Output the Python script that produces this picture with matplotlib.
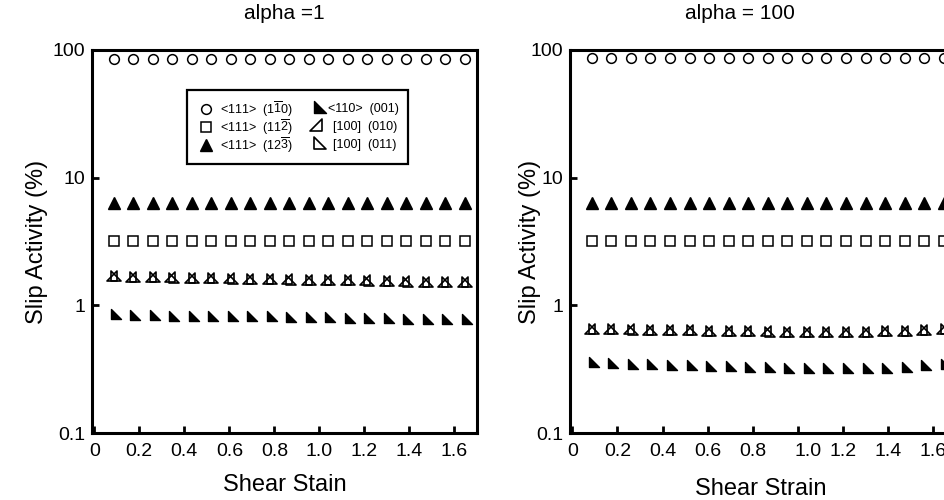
import matplotlib
matplotlib.use("Agg")
import matplotlib.pyplot as plt
from matplotlib.path import Path
from matplotlib.patches import Rectangle
from matplotlib.transforms import ScaledTranslation

plt.rcParams['font.family'] = ['Liberation Sans', 'DejaVu Sans']
plt.rcParams['mathtext.fontset'] = 'custom'
plt.rcParams['mathtext.rm'] = 'Liberation Sans'
plt.rcParams['mathtext.it'] = 'Liberation Sans'

# ---------------- data ----------------
strain = [0.087, 0.173, 0.260, 0.346, 0.433, 0.520, 0.606, 0.693, 0.780, 0.866,
          0.953, 1.040, 1.126, 1.212, 1.300, 1.386, 1.472, 1.560, 1.645]

labels = [r'<111>  (1$\overline{1}$0)', r'<111>  (11$\overline{2}$)', r'<111>  (12$\overline{3}$)',
          r'<110>  (001)', r'[100]  (010)', r'[100]  (011)']

# alpha = 1
a1_s110 = [85, 85, 85, 85, 85, 85, 85, 85, 85, 85, 85, 85, 85, 85, 85, 85, 85, 85, 85]
a1_s112 = [3.2, 3.2, 3.2, 3.2, 3.2, 3.2, 3.2, 3.2, 3.2, 3.2, 3.2, 3.2, 3.2, 3.2, 3.2, 3.2, 3.2, 3.2, 3.2]
a1_s123 = [6.3, 6.3, 6.3, 6.3, 6.3, 6.3, 6.3, 6.3, 6.3, 6.3, 6.3, 6.3, 6.3, 6.3, 6.3, 6.3, 6.3, 6.3, 6.3]
a1_c001 = [0.82, 0.81, 0.81, 0.80, 0.80, 0.80, 0.79, 0.79, 0.79, 0.78, 0.78, 0.78, 0.77, 0.77, 0.77, 0.76, 0.76, 0.75, 0.75]
a1_c010 = [1.64, 1.62, 1.61, 1.60, 1.59, 1.58, 1.57, 1.56, 1.55, 1.54, 1.53, 1.52, 1.52, 1.51, 1.50, 1.49, 1.48, 1.48, 1.47]
a1_c011 = [1.63, 1.61, 1.60, 1.59, 1.58, 1.57, 1.56, 1.55, 1.54, 1.53, 1.52, 1.51, 1.51, 1.50, 1.49, 1.48, 1.47, 1.47, 1.46]

# alpha = 100
a2_s110 = [86, 86, 86, 86, 86, 86, 86, 86, 86, 86, 86, 86, 86, 86, 86, 86, 86, 86, 86]
a2_s112 = [3.2, 3.2, 3.2, 3.2, 3.2, 3.2, 3.2, 3.2, 3.2, 3.2, 3.2, 3.2, 3.2, 3.2, 3.2, 3.2, 3.2, 3.2, 3.2]
a2_s123 = [6.3, 6.3, 6.3, 6.3, 6.3, 6.3, 6.3, 6.3, 6.3, 6.3, 6.3, 6.3, 6.3, 6.3, 6.3, 6.3, 6.3, 6.3, 6.3]
a2_c001 = [0.345, 0.340, 0.336, 0.333, 0.330, 0.327, 0.324, 0.321, 0.318, 0.316, 0.314, 0.312, 0.310, 0.309, 0.310, 0.313, 0.318, 0.326, 0.335]
a2_c010 = [0.635, 0.630, 0.625, 0.622, 0.618, 0.615, 0.612, 0.609, 0.606, 0.603, 0.601, 0.599, 0.598, 0.598, 0.600, 0.604, 0.610, 0.620, 0.632]
a2_c011 = [0.632, 0.627, 0.622, 0.619, 0.616, 0.613, 0.610, 0.607, 0.604, 0.601, 0.599, 0.597, 0.596, 0.596, 0.598, 0.602, 0.608, 0.618, 0.630]

xticks = [0, 0.2, 0.4, 0.6, 0.8, 1.0, 1.2, 1.4, 1.6]
xticklabels = ['0', '0.2', '0.4', '0.6', '0.8', '1.0', '1.2', '1.4', '1.6']
yticks = [0.1, 1, 10, 100]
yticklabels = ['0.1', '1', '10', '100']

# ---------------- markers (right triangles centred on their centroid) ----------------
C = [Path.MOVETO, Path.LINETO, Path.LINETO, Path.CLOSEPOLY]
tri_bl = Path([(-1, 2), (-1, -1), (2, -1), (-1, 2)], C)   # right angle bottom-left
tri_br = Path([(1, 2), (1, -1), (-2, -1), (1, 2)], C)     # right angle bottom-right

styles = [
    dict(marker='o', mfc='white', mec='black', ms=7, mew=1.1),
    dict(marker='s', mfc='white', mec='black', ms=7, mew=1.1),
    dict(marker='^', mfc='black', mec='black', ms=8, mew=1.0),
    dict(marker=tri_bl, mfc='black', mec='black', ms=10, mew=1.0),
    dict(marker=tri_br, mfc='none', mec='black', ms=10, mew=1.2),
    dict(marker=tri_bl, mfc='none', mec='black', ms=10, mew=1.2),
]

fig = plt.figure(figsize=(9.45, 5.0), dpi=100)
ax1 = fig.add_axes([92/945, 67/500, 385/945, 383/500])
ax2 = fig.add_axes([570/945, 67/500, 386/945, 383/500])

panels = [
    (ax1, 'alpha =1', [a1_s110, a1_s112, a1_s123, a1_c001, a1_c010, a1_c011], 'Shear Stain'),
    (ax2, 'alpha = 100', [a2_s110, a2_s112, a2_s123, a2_c001, a2_c010, a2_c011], 'Shear Strain'),
]

for ax, title, series, xlab in panels:
    for vals, st, lab in zip(series, styles, labels):
        ax.plot(strain, vals, linestyle='none', label=lab, **st)
    ax.set_yscale('log')
    ax.set_ylim(0.1, 100)
    ax.set_xlim(-0.01, 1.70)
    ax.set_yticks(yticks)
    ax.set_yticklabels(yticklabels)
    ax.yaxis.set_minor_locator(matplotlib.ticker.NullLocator())
    ax.set_xticks(xticks)
    ax.set_xticklabels(xticklabels)
    ax.tick_params(direction='in', length=5, width=2, labelsize=14)
    ax.tick_params(axis='x', pad=7)
    ax.tick_params(axis='y', pad=5)
    for sp in ax.spines.values():
        sp.set_linewidth(2.2)
    ax.set_title(title, fontsize=15, pad=22)
    ax.set_ylabel('Slip Activity (%)', fontsize=17)
    ax.set_xlabel(xlab, fontsize=17)

ax1.xaxis.labelpad = 10
ax2.xaxis.labelpad = 13
ax1.yaxis.set_label_coords(-0.114, 0.5)
ax2.yaxis.set_label_coords(-0.074, 0.5)
ax1.title.set_x(0.50)
ax2.title.set_x(0.44)
ax2.xaxis.label.set_x(0.495)
lbl = ax2.get_xticklabels()[5]
lbl.set_transform(lbl.get_transform() + ScaledTranslation(10/100, 0, fig.dpi_scale_trans))

# ---------------- legend box (left panel) ----------------
ax1.add_patch(Rectangle((0.247, 0.702), 0.574, 0.194, transform=ax1.transAxes,
                        facecolor='white', edgecolor='black', linewidth=1.6, zorder=5))
row_y = [0.846, 0.799, 0.752]
col_mx = [0.296, 0.587]
col_tx = [[0.332, 0.332, 0.332], [0.613, 0.626, 0.626]]
leg_ms = [7, 7.5, 8.5, 11, 11, 11]
for i, (st, lab) in enumerate(zip(styles, labels)):
    c, r = divmod(i, 3)
    s = dict(st)
    s['ms'] = leg_ms[i]
    ax1.plot([col_mx[c]], [row_y[r]], transform=ax1.transAxes, linestyle='none',
             clip_on=False, zorder=6, **s)
    ax1.text(col_tx[c][r], row_y[r], lab, transform=ax1.transAxes, fontsize=9,
             va='center', ha='left', zorder=6)

fig.savefig('out.png', dpi=100)
